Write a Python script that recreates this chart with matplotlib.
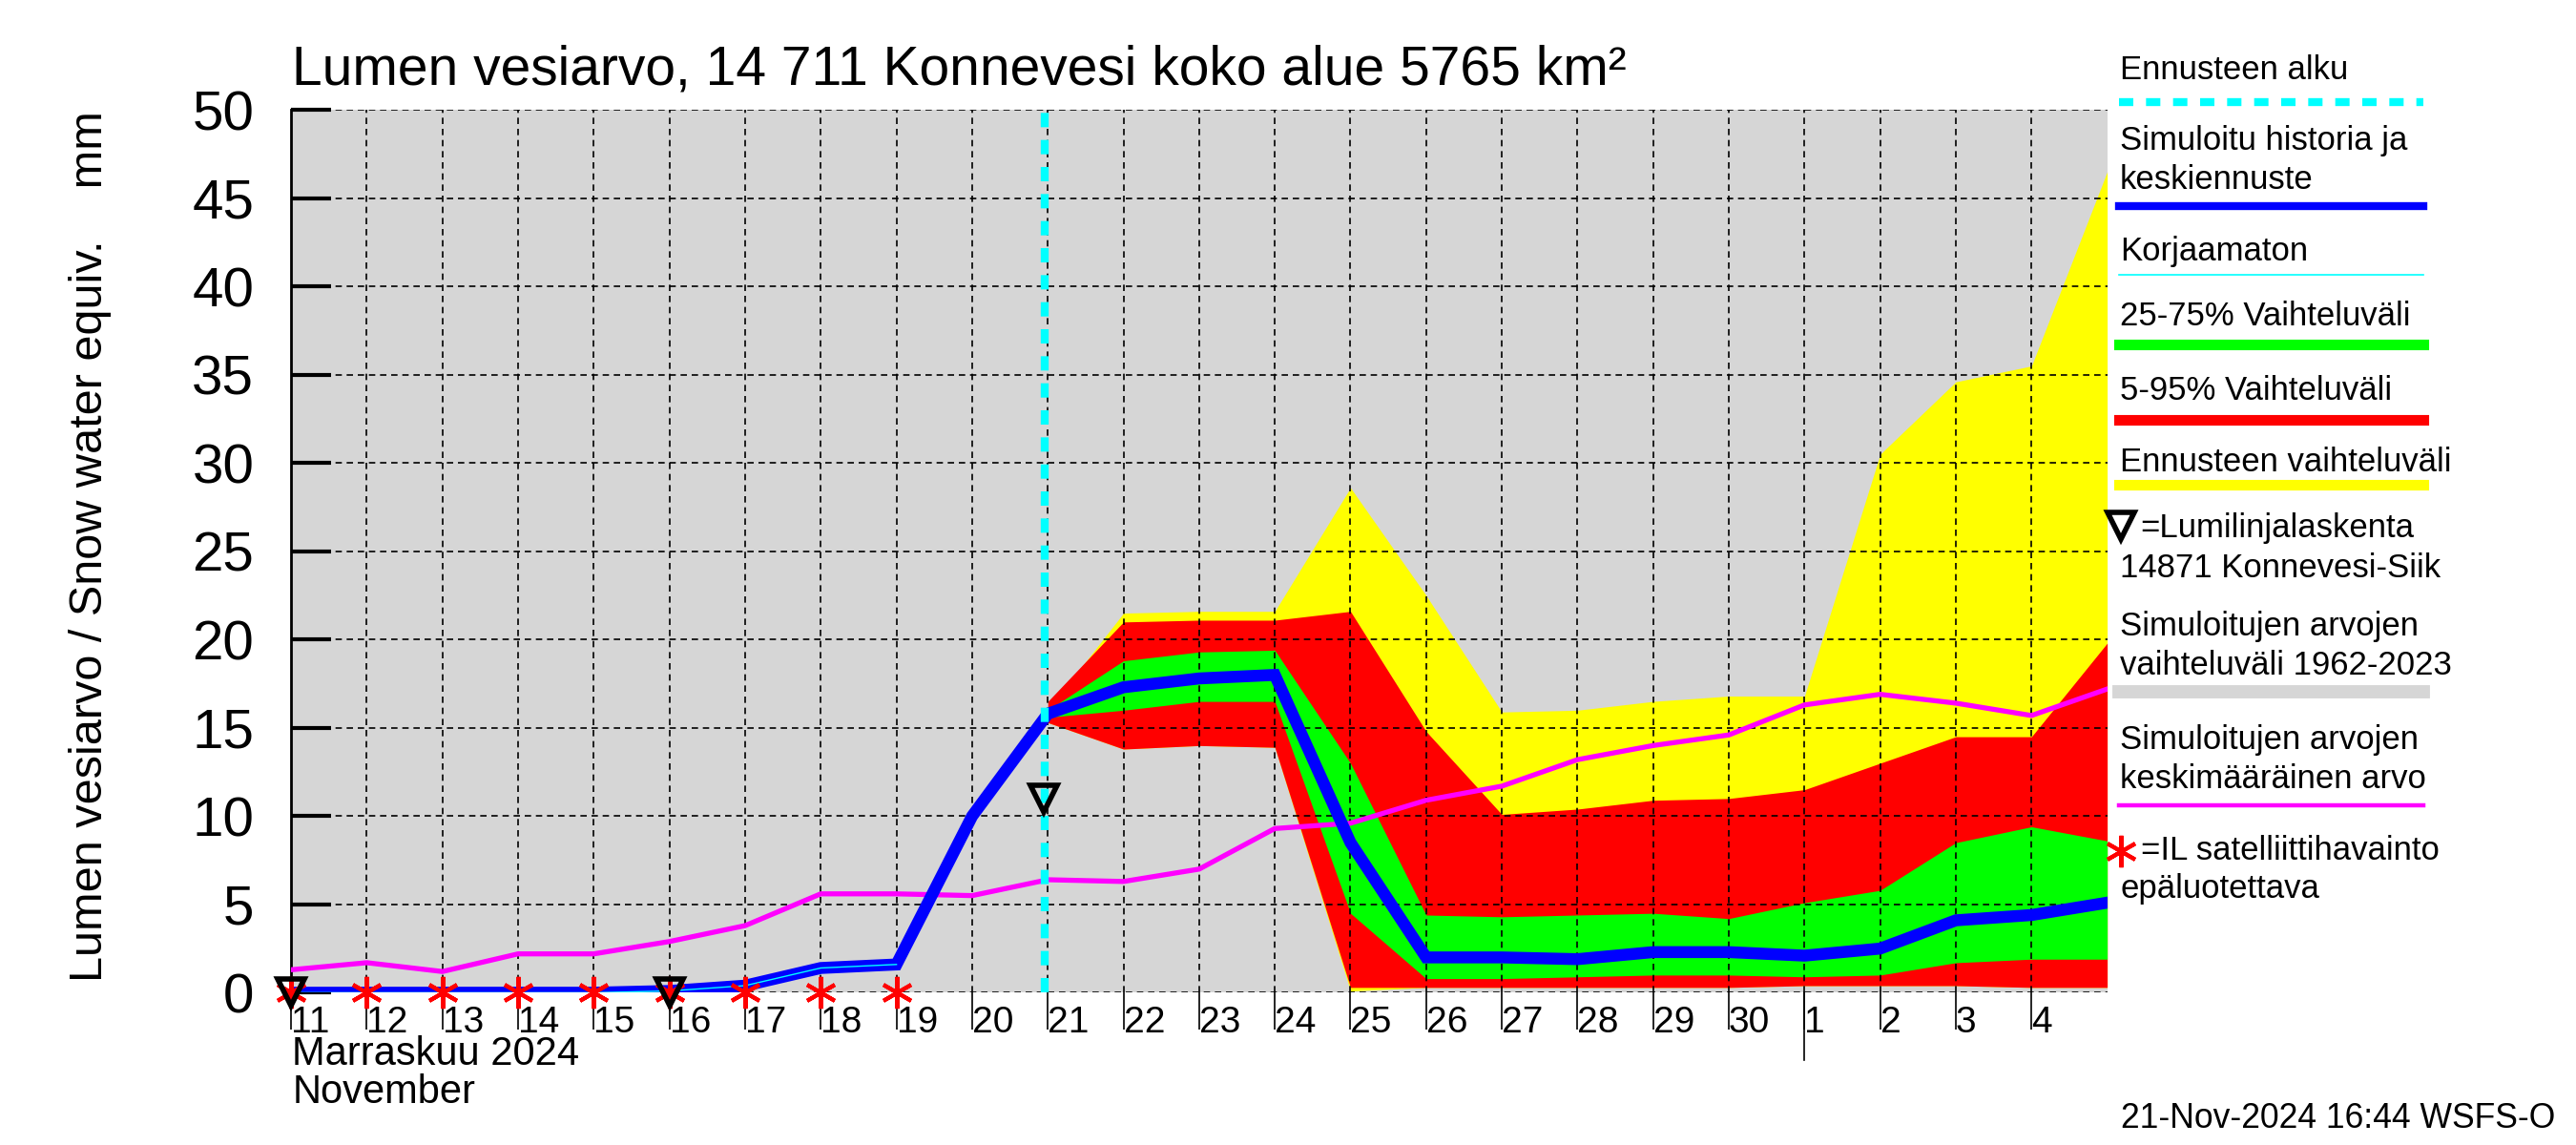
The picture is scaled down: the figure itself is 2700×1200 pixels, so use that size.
import matplotlib
matplotlib.use('Agg')
import matplotlib.pyplot as plt
import matplotlib.transforms as mtransforms
from matplotlib.lines import Line2D

# Days counted from 11 Nov 2024
days = list(range(25))
tick_days = list(range(24))
day_labels = ['11', '12', '13', '14', '15', '16', '17', '18', '19', '20',
              '21', '22', '23', '24', '25', '26', '27', '28', '29', '30',
              '1', '2', '3', '4']

# Simulated history + mean forecast (mm)
swe_sim = [0.0, 0.0, 0.0, 0.0, 0.0, 0.1, 0.4, 1.4, 1.6, 10.0,
           15.8, 17.3, 17.8, 18.0, 8.5, 2.0, 2.0, 1.9, 2.3, 2.3,
           2.1, 2.5, 4.1, 4.4, 5.1]
# Uncorrected (history part)
unc_days = list(range(9))
swe_unc = [0.0, 0.0, 0.0, 0.0, 0.0, 0.1, 0.4, 1.4, 1.6]

# Mean of simulated values 1962-2023
swe_mean = [1.3, 1.7, 1.2, 2.2, 2.2, 2.9, 3.8, 5.6, 5.6, 5.5,
            6.4, 6.3, 7.0, 9.3, 9.6, 10.9, 11.7, 13.2, 14.0, 14.6,
            16.3, 16.9, 16.4, 15.7, 17.2]

# Forecast bands
fc_days = list(range(10, 25))
yellow_hi = [16.0, 21.5, 21.6, 21.6, 28.6, 22.5, 15.9, 16.0, 16.5, 16.8,
             16.8, 30.5, 34.6, 35.5, 46.5]
yellow_lo = [15.3, 13.8, 14.0, 13.9, 0.1, 0.3, 0.3, 0.3, 0.3, 0.3,
             0.4, 0.4, 0.4, 0.3, 0.3]
red_hi = [16.5, 21.0, 21.1, 21.1, 21.6, 14.8, 10.1, 10.4, 10.9, 11.0,
          11.5, 13.0, 14.5, 14.5, 19.8]
red_lo = [15.3, 13.8, 14.0, 13.9, 0.3, 0.3, 0.3, 0.3, 0.3, 0.3,
          0.4, 0.4, 0.4, 0.3, 0.3]
green_hi = [16.0, 18.8, 19.3, 19.4, 13.0, 4.4, 4.3, 4.4, 4.5, 4.2,
            5.1, 5.8, 8.5, 9.4, 8.6]
green_lo = [15.6, 16.0, 16.5, 16.5, 4.5, 0.8, 0.8, 0.9, 1.0, 1.0,
            0.9, 1.0, 1.7, 1.9, 1.9]

# Observations
snowline_days = [0, 5, 9.95]
snowline_vals = [0.0, 0.0, 11.0]
sat_days = [0, 1, 2, 3, 4, 5, 6, 7, 8]
sat_vals = [0, 0, 0, 0, 0, 0, 0, 0, 0]

forecast_start = 9.96

NARROW = ['Liberation Sans Narrow', 'Liberation Sans', 'DejaVu Sans']
REGULAR = ['Liberation Sans', 'DejaVu Sans']
plt.rcParams['font.family'] = REGULAR

fig = plt.figure(figsize=(13.5, 6), dpi=200)
ax = fig.add_axes([0.113, 0.133, 0.705, 0.771])
ax.set_facecolor('#d6d6d6')

# Bands
ax.fill_between(fc_days, yellow_lo, yellow_hi, color='#ffff00', lw=0, zorder=1)
ax.fill_between(fc_days, red_lo, red_hi, color='#ff0000', lw=0, zorder=1.1)
ax.fill_between(fc_days, green_lo, green_hi, color='#00ff00', lw=0, zorder=1.2)

# Lines
ax.plot(days, swe_mean, color='#ff00ff', lw=1.9, zorder=3)
ax.plot(days, swe_sim, color='#0000ff', lw=4.5, zorder=4, solid_joinstyle='miter')
ax.plot(unc_days, swe_unc, color='#00ffff', lw=0.5, zorder=4.5)
ax.axvline(forecast_start, color='#00ffff', lw=3, dashes=(1.8, 1.6), zorder=5)

# Markers
ax.plot(sat_days, sat_vals, ls='none', marker=(6, 2, 0), ms=12, mew=1.5,
        color='#ff0000', zorder=6, clip_on=False)
ax.plot(snowline_days, snowline_vals, ls='none', marker='v', ms=10, mew=2,
        mfc='none', mec='black', zorder=6.5, clip_on=False)

# Axes
ax.set_xlim(0, 24)
ax.set_ylim(0, 50)
ax.set_yticks(range(0, 51, 5))
ax.set_xticks(tick_days)
ax.set_xticklabels(day_labels, family=NARROW, fontsize=14)
for lbl in ax.get_xticklabels():
    lbl.set_horizontalalignment('left')
ax.set_yticklabels([str(v) for v in range(0, 51, 5)], family=NARROW, fontsize=21)
ax.tick_params(axis='y', direction='in', length=15, width=1.5, pad=14)
ax.tick_params(axis='x', direction='out', length=14, width=0.6, pad=-9)

ax.grid(True, color='black', lw=0.6, ls=(0, (4, 3)))
ax.set_axisbelow(False)
for side in ['top', 'right', 'bottom']:
    ax.spines[side].set_visible(False)
ax.spines['left'].set_linewidth(1.0)

# Month separator below the axis
trans = mtransforms.blended_transform_factory(ax.transData, ax.transAxes)
ax.plot([20, 20], [0, -0.076], color='black', lw=0.6, transform=trans, clip_on=False)

# Titles and labels
fig.text(0.1135, 0.926, 'Lumen vesiarvo, 14 711 Konnevesi koko alue 5765 km²',
         family=NARROW, fontsize=20.5, va='baseline', ha='left')
fig.text(0.035, 0.523, 'Lumen vesiarvo / Snow water equiv.    mm', rotation=90,
         fontsize=17.5, va='center', ha='center')
fig.text(0.1135, 0.079, 'Marraskuu 2024', family=NARROW, fontsize=15, va='center')
fig.text(0.1135, 0.046, 'November', family=NARROW, fontsize=15, va='center')
fig.text(0.992, 0.023, '21-Nov-2024 16:44 WSFS-O', fontsize=12.8, va='center', ha='right')

# Legend on the right
lx0, lx1 = 0.8227, 0.9407
fs = 12.5


def ltext(y, s, x=0.823):
    fig.text(x, 1 - y, s, fontsize=fs, va='center', ha='left')


def lline(y, **kw):
    fig.add_artist(Line2D([lx0, lx1], [1 - y, 1 - y], transform=fig.transFigure, **kw))


ltext(0.061, 'Ennusteen alku')
lline(0.089, color='#00ffff', lw=3, dashes=(1.8, 1.6))
ltext(0.123, 'Simuloitu historia ja')
ltext(0.157, 'keskiennuste')
lline(0.180, color='#0000ff', lw=3)
ltext(0.220, 'Korjaamaton')
lline(0.240, color='#00ffff', lw=0.6)
ltext(0.276, '25-75% Vaihteluväli')
lline(0.301, color='#00ff00', lw=4)
ltext(0.341, '5-95% Vaihteluväli')
lline(0.367, color='#ff0000', lw=4)
ltext(0.404, 'Ennusteen vaihteluväli')
lline(0.423, color='#ffff00', lw=4)
fig.add_artist(Line2D([0.8235], [1 - 0.459], transform=fig.transFigure, ls='none',
                      marker='v', ms=10, mew=2, mfc='none', mec='black'))
ltext(0.461, '=Lumilinjalaskenta', x=0.831)
ltext(0.496, '14871 Konnevesi-Siik')
ltext(0.547, 'Simuloitujen arvojen')
ltext(0.581, 'vaihteluväli 1962-2023')
lline(0.604, color='#d6d6d6', lw=5)
ltext(0.646, 'Simuloitujen arvojen')
ltext(0.680, 'keskimääräinen arvo')
lline(0.703, color='#ff00ff', lw=1.6)
fig.add_artist(Line2D([0.8235], [1 - 0.743], transform=fig.transFigure, ls='none',
                      marker=(6, 2, 0), ms=12, mew=1.5, color='#ff0000'))
ltext(0.743, '=IL satelliittihavainto', x=0.831)
ltext(0.776, 'epäluotettava')

fig.savefig('out.png', dpi=200)
